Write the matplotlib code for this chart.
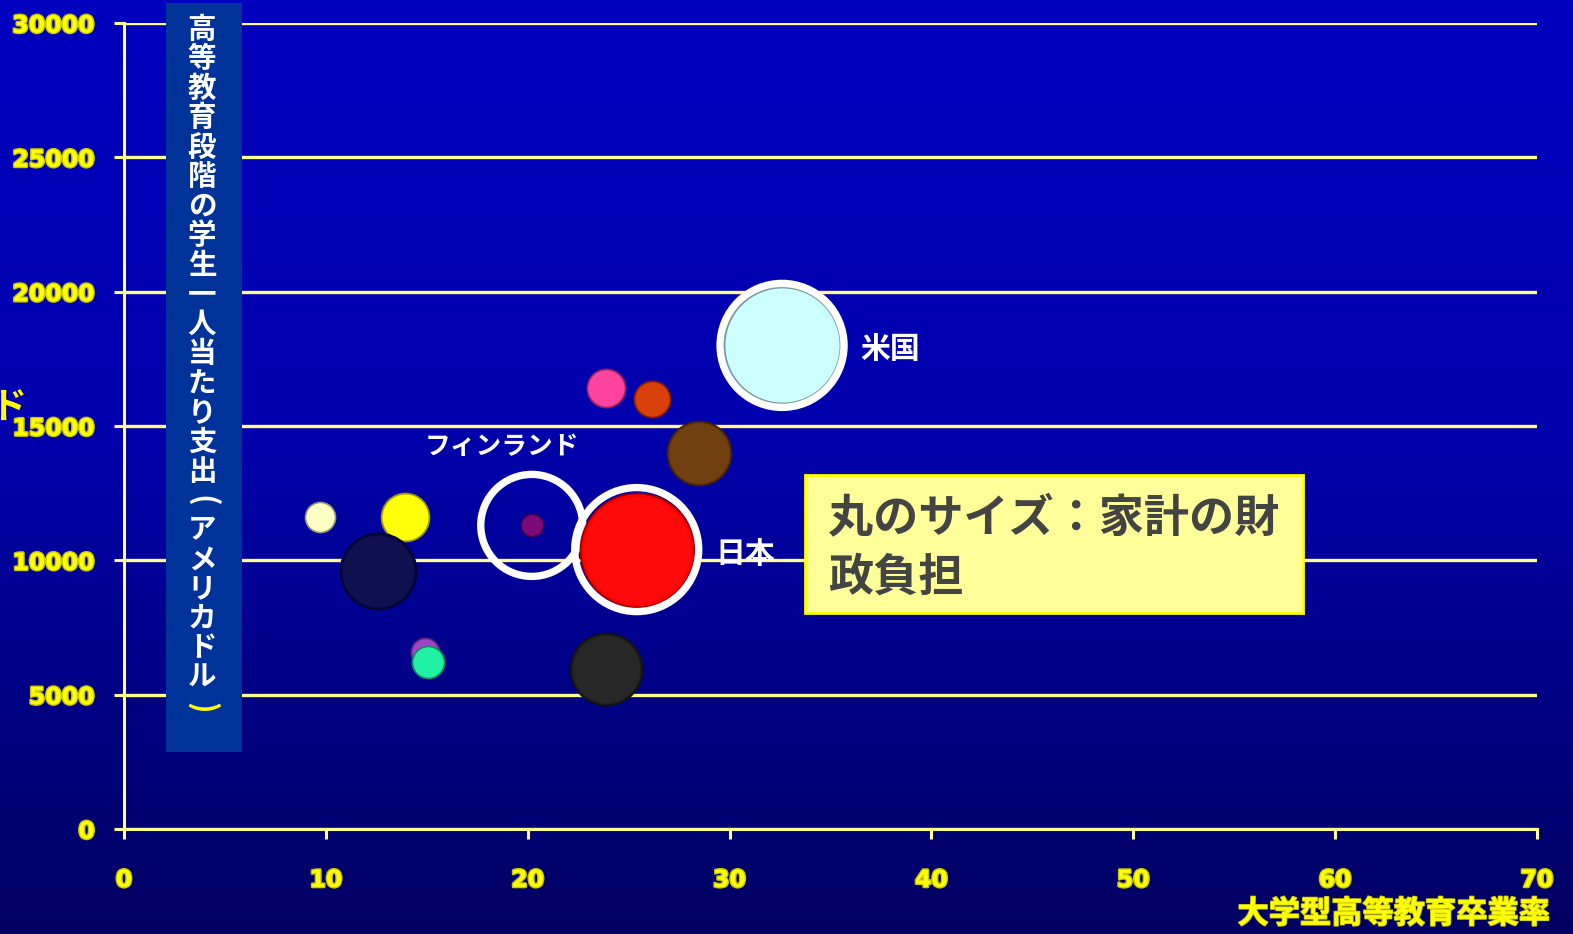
import numpy as np
import matplotlib
matplotlib.use("Agg")
import matplotlib.pyplot as plt
import matplotlib.patheffects as pe
from matplotlib.patches import Rectangle
from matplotlib.colors import to_rgb

# ---- data -------------------------------------------------------------
# graduation rate (%) of university-type tertiary education
grad_rate = [9.7, 13.9, 12.6, 14.9, 15.05, 20.2, 23.9, 23.9, 26.15, 28.5, 25.4, 32.6]
# annual expenditure per tertiary student (USD)
spend_usd = [11600, 11600, 9600, 6600, 6200, 11300, 5950, 16400, 16000, 14000, 10400, 18000]
# household share of the funding burden (%) -> bubble area
household_share = [3.5, 9.0, 22.7, 3.1, 4.0, 1.9, 20.3, 5.7, 5.1, 16.0, 51.0, 52.8]
bubble_colors = ["#FFFFC0", "#FFFF00", "#06064A", "#9A3CC4", "#18F0A0", "#780074",
                 "#1E1E1E", "#FF3C9C", "#D83800", "#6C3806", "#FF0000", "#CCFFFF"]

highlight = {"フィンランド": 5, "日本": 10, "米国": 11}

x_ticks = [0, 10, 20, 30, 40, 50, 60, 70]
y_ticks = [0, 5000, 10000, 15000, 20000, 25000, 30000]
x_label = "大学型高等教育卒業率"
y_label = "高等教育段階の学生一人当たり支出(アメリカドル)"
note = "丸のサイズ：家計の財\n政負担"

JP = ["Noto Sans CJK JP", "DejaVu Sans"]
W, H = 1573, 934
GRID = "#FFFF90"
YEL = "#FFFF00"

fig = plt.figure(figsize=(W / 100, H / 100), dpi=100)

# gradient background
bg = fig.add_axes([0, 0, 1, 1], zorder=-5)
t = np.linspace(0, 1, 256)
top = np.array(to_rgb("#0000BE"))
mid = np.array(to_rgb("#0000AE"))
bot = np.array(to_rgb("#000062"))
rows = []
for v in t:
    if v < 0.45:
        c = top + (mid - top) * (v / 0.45)
    else:
        c = mid + (bot - mid) * ((v - 0.45) / 0.55)
    rows.append(c)
grad = np.array(rows)[:, None, :]
bg.imshow(grad, aspect="auto", extent=[0, 1, 0, 1])
bg.set_axis_off()

ax = fig.add_axes([124 / W, 1 - 829 / H, (1537 - 124) / W, (829 - 23) / H])
ax.set_facecolor("none")
ax.set_xlim(0, 70)
ax.set_ylim(0, 30000)

for s in ["top", "right"]:
    ax.spines[s].set_visible(False)
for s in ["left", "bottom"]:
    ax.spines[s].set_color(GRID)
    ax.spines[s].set_linewidth(2.2)
    ax.spines[s].set_zorder(1)

ax.set_xticks(x_ticks)
ax.set_yticks(y_ticks)
ax.set_yticklabels([str(v) for v in y_ticks])
ax.tick_params(axis="both", colors=GRID, width=2.2, length=7, direction="out")
ax.tick_params(axis="x", pad=21)
ax.tick_params(axis="y", pad=14)
stroke = [pe.withStroke(linewidth=2.0, foreground="#C8C800")]
for lab in ax.get_xticklabels() + ax.get_yticklabels():
    lab.set_color(YEL)
    lab.set_fontweight("bold")
    lab.set_fontsize(17)
    lab.set_path_effects(stroke)

ax.yaxis.grid(True, color=GRID, linewidth=2.4, zorder=0)
ax.set_axisbelow(True)

# bubbles (area proportional to household share)
scale = (2 * 57 * 0.72) ** 2 / 51.0


def shade(c, f):
    r = np.array(to_rgb(c))
    if f >= 0:
        return tuple(r + (1 - r) * f)
    return tuple(r * (1 + f))


for i, (x, y, v, c) in enumerate(zip(grad_rate, spend_usd, household_share, bubble_colors)):
    z = 3 + i * 0.1
    s = v * scale
    ax.scatter([x], [y], s=[s], color=c, edgecolors=[shade(c, -0.40)],
               linewidths=1.3, zorder=z)
    ax.scatter([x], [y], s=[s * 0.88], color=[shade(c, 0.04)], linewidths=0,
               zorder=z + 0.02)

# white rings around highlighted countries
ring_px = {"フィンランド": 51, "日本": 62, "米国": 62}
for name, idx in highlight.items():
    r_pt = ring_px[name] * 0.72
    ax.scatter([grad_rate[idx]], [spend_usd[idx]], s=[(2 * r_pt) ** 2],
               facecolors="none", edgecolors="white", linewidths=5.3,
               zorder=2.5 if name == "フィンランド" else 6)

ax.annotate("米国", (grad_rate[11], spend_usd[11]), xytext=(78, -4),
            textcoords="offset pixels", ha="left", va="center", color="white",
            fontsize=21.5, fontweight="bold", family=JP, zorder=7)
ax.annotate("日本", (grad_rate[10], spend_usd[10]), xytext=(79, -4),
            textcoords="offset pixels", ha="left", va="center", color="white",
            fontsize=21.5, fontweight="bold", family=JP, zorder=7)
ax.annotate("フィンランド", (grad_rate[5], spend_usd[5]), xytext=(-30, 79),
            textcoords="offset pixels", ha="center", va="center", color="white",
            fontsize=18.5, fontweight="bold", family=JP, zorder=7)

# note box
fig.add_artist(Rectangle((805 / W, 1 - 613 / H), (1303 - 805) / W, (613 - 475) / H,
                         transform=fig.transFigure, facecolor="#FFFF99",
                         edgecolor=YEL, linewidth=2, zorder=8))
fig.text(828 / W, 1 - 548 / H, note, ha="left", va="center", color="#444444",
         fontsize=32.5, family=JP, fontweight="bold", linespacing=1.36, zorder=9)

# vertical y-axis title on a dark panel
fig.add_artist(Rectangle((166 / W, 1 - 752 / H), (242 - 166) / W, (752 - 3) / H,
                         transform=fig.transFigure, facecolor="#003399",
                         edgecolor="none", zorder=8))
y0, step = 30, 29.45
for k, ch in enumerate(y_label):
    yy = 1 - (y0 + k * step) / H
    col = YEL if k == len(y_label) - 1 else "white"
    if ch in "()":
        fig.text(202 / W, yy, ch, ha="center", va="center", color=col,
                 fontsize=22, family=JP, fontweight="bold", rotation=-90,
                 rotation_mode="anchor", zorder=9)
    else:
        fig.text(202 / W, yy, ch, ha="center", va="center", color=col,
                 fontsize=20.5, family=JP, fontweight="bold", zorder=9)

# fragment of an outer y-axis title running off the left edge
fig.text(-10 / W, 1 - 407 / H, "ド", ha="left", va="center", color=YEL,
         fontsize=26, fontweight="bold", family=JP, zorder=9)

# x-axis title
fig.text(1550 / W, 1 - 914 / H, x_label, ha="right", va="center", color=YEL,
         fontsize=22.5, fontweight="bold", family=JP, zorder=9,
         path_effects=[pe.withStroke(linewidth=1.2, foreground="#C8C800")])

fig.savefig("out.png", dpi=100)
